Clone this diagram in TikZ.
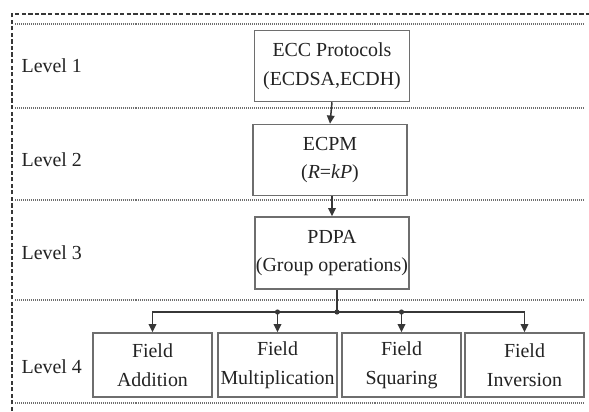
\documentclass[tikz,border=0pt]{standalone}
\usepackage{fontspec}
\setmainfont{Liberation Serif}
\usetikzlibrary{arrows.meta,positioning}
\definecolor{linegray}{RGB}{55,55,55}
\definecolor{boxgray}{RGB}{110,110,110}
\definecolor{txtgray}{RGB}{35,35,35}

\begin{document}
\begin{tikzpicture}[x=0.03cm, y=-0.03cm, >={Triangle[width=6.5pt,length=7pt]}, line width=1.3pt]
    \tikzstyle{every node}=[font=\fontsize{17}{24.5}\selectfont, text=txtgray]
    \tikzstyle{block}=[draw=boxgray, line width=1.3pt, align=center, inner sep=0pt]
    \tikzstyle{level}=[anchor=west]
    \tikzstyle{sep}=[boxgray, line width=0.9pt, dash pattern=on 0.8pt off 0.9pt]
    \tikzstyle{arr}=[->, draw=linegray]

    \useasboundingbox (0,0) rectangle (589,411);

    % outer frame and level separators
    \draw[linegray, line width=1.7pt, dash pattern=on 3.6pt off 2pt] (12,411) -- (12,14) -- (589,14);
    \foreach \y in {24,108,200,300,403}
        \draw[sep] (15,\y) -- (583,\y);

    % level labels
    \node[level] (lvl1) at (17,66) {Level 1};
    \node[level] (lvl2) at (17,160) {Level 2};
    \node[level] (lvl3) at (17,253) {Level 3};
    \node[level] (lvl4) at (17,367) {Level 4};

    % main blocks
    \node[block, minimum width=4.65cm, minimum height=2.13cm] (ecc) at (332,66)
        {ECC Protocols\\(ECDSA,ECDH)};
    \node[block, minimum width=4.62cm, minimum height=2.13cm] (ecpm) at (330,160)
        {ECPM\\(\textit{R}=\textit{kP})};
    \node[block, minimum width=4.62cm, minimum height=2.16cm] (pdpa) at (332,253)
        {PDPA\\(Group operations)};

    % field operations
    \tikzstyle{fieldop}=[block, minimum width=3.57cm, minimum height=1.92cm]
    \node[fieldop] (add) at (152.5,365) {Field\\Addition};
    \node[fieldop] (mul) at (277.5,365) {Field\\Multiplication};
    \node[fieldop] (sqr) at (401.5,365) {Field\\Squaring};
    \node[fieldop] (inv) at (524.5,365) {Field\\Inversion};

    \coordinate (split) at (337,312);

    \draw[arr] (ecc.south) -- (ecpm.north);
    \draw[arr] (ecpm.south -| pdpa.north) -- (pdpa.north);
    \draw[linegray] (pdpa.south -| split) -- (split);
    \draw[arr] (split) -| (add.north);
    \draw[arr] (split) -| (inv.north);
    \draw[arr] (split -| mul.north) -- (mul.north);
    \draw[arr] (split -| sqr.north) -- (sqr.north);

    \foreach \p in {split, {split -| mul.north}, {split -| sqr.north}}
        \fill[linegray] (\p) circle (2.2pt);
\end{tikzpicture}
\end{document}
